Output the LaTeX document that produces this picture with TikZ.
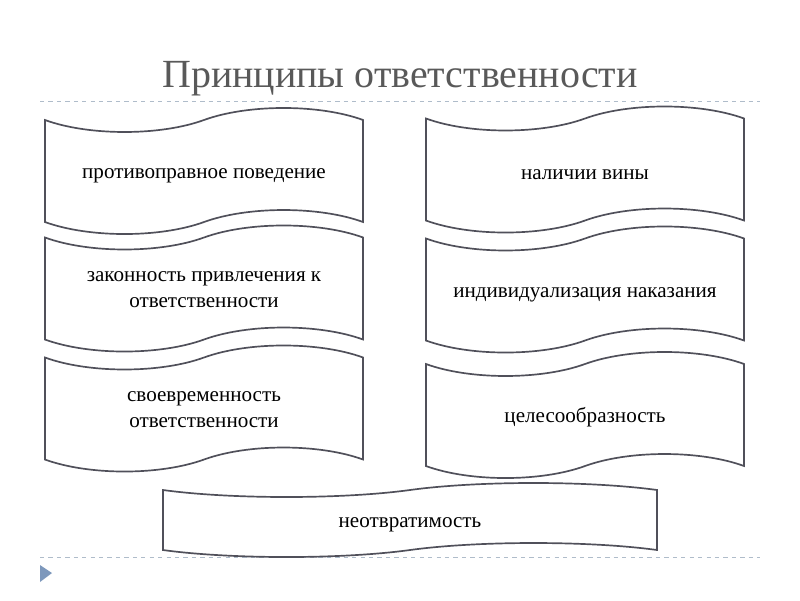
\documentclass[tikz,border=0pt]{standalone}
\usepackage{fontspec}
\setmainfont{Liberation Serif}
\usetikzlibrary{shapes.symbols}
\definecolor{LineGray}{RGB}{80, 80, 90}
\definecolor{TitleGray}{RGB}{89, 89, 89}
\definecolor{DashBlue}{RGB}{175, 188, 202}
\definecolor{MarkBlue}{RGB}{125, 152, 188}

\tikzset{
  flag/.style = {tape, draw = LineGray, line width = 1.2pt, fill = white,
    inner sep = 0pt, tape bend height = 0.6cm},
  colbox/.style = {flag, minimum width = 7.95cm, minimum height = 3.15cm},
  boxtext/.style = {align = center, yshift = -0.125cm,
    font = \fontsize{15}{19}\selectfont},
  twotext/.style = {boxtext, yshift = 0.1cm},
}

\begin{document}
\begin{tikzpicture}[x = 0.025cm, y = -0.025cm]
            \useasboundingbox (0, 0) rectangle (800, 600);
            %заголовок
            \node[text = TitleGray, font = \fontsize{28.4}{32}\selectfont] (title) at (400, 79) {Принципы ответственности};
            %пунктирные линии
            \draw[DashBlue, dashed] (40, 101) -- (760, 101);
            \draw[DashBlue, dashed] (40, 557) -- (760, 557);
            %левый столбец
            \node[colbox, label = {[boxtext]center:противоправное поведение}] (povedenie) at (204, 171) {};
            \node[colbox, label = {[twotext]center:законность привлечения к\\ответственности}] (zakonnost) at (204, 288.5) {};
            \node[colbox, label = {[twotext]center:своевременность\\ответственности}] (svoevrem) at (204, 408.5) {};
            %правый столбец
            \node[colbox, label = {[boxtext]center:наличии вины}] (vina) at (585, 169.5) {};
            \node[colbox, label = {[boxtext]center:индивидуализация наказания}] (individ) at (585, 289.5) {};
            \node[colbox, label = {[boxtext, yshift = 0.07cm]center:целесообразность}] (celesoobr) at (585, 415) {};
            %нижний блок
            \node[flag, minimum width = 12.35cm, minimum height = 1.85cm, tape bend height = 0.35cm,
                  label = {[boxtext]center:неотвратимость}] (neotvr) at (410, 520) {};
            %маркер
            \fill[MarkBlue] (40, 565) -- (52, 573) -- (40, 582) -- cycle;
        \end{tikzpicture}
\end{document}
